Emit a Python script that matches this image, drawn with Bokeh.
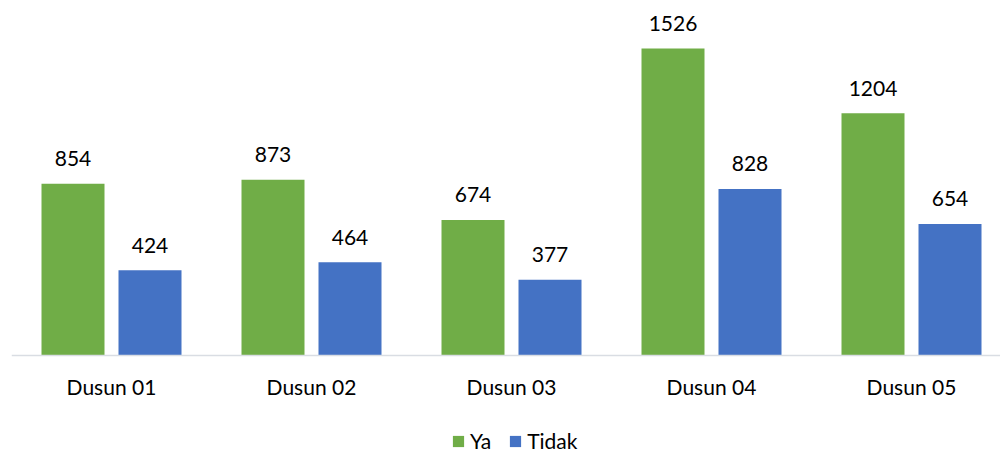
from bokeh.plotting import figure
from bokeh.models import Range1d, FixedTicker, Legend, LegendItem, ColumnDataSource, LinearAxis
from bokeh.core.properties import value
from bokeh.embed import file_html
from bokeh.resources import INLINE

categories = ["Dusun 01", "Dusun 02", "Dusun 03", "Dusun 04", "Dusun 05"]
ya = [854, 873, 674, 1526, 1204]
tidak = [424, 464, 377, 828, 654]
series_names = ["Ya", "Tidak"]

FONT = "Lato"
FS = "21px"
GREEN = "#70ad47"
BLUE = "#4472c4"

centers = [i + 0.5 for i in range(len(categories))]
off = 0.1925
bw = 0.315

src_ya = ColumnDataSource(dict(x=[c - off for c in centers], top=ya, lab=[str(v) for v in ya]))
src_ti = ColumnDataSource(dict(x=[c + off for c in centers], top=tidak, lab=[str(v) for v in tidak]))

p = figure(frame_width=989, frame_height=453,
           x_range=Range1d(0, 4.945), y_range=Range1d(-487.1, 1764.6),
           output_backend="svg", toolbar_location=None,
           x_axis_location=None, y_axis_location=None,
           min_border_left=11, min_border_right=0, min_border_top=0, min_border_bottom=0)
p.outline_line_color = None
p.grid.visible = False

r1 = p.vbar(x="x", top="top", width=bw, bottom=0, source=src_ya, fill_color=GREEN, line_color=None)
r2 = p.vbar(x="x", top="top", width=bw, bottom=0, source=src_ti, fill_color=BLUE, line_color=None)

for s in (src_ya, src_ti):
    p.text(x="x", y="top", text="lab", source=s, text_align="center", text_baseline="alphabetic",
           y_offset=-25, text_font=value(FONT), text_font_size=FS, text_color="black")

ax = LinearAxis(fixed_location=0)
ax.ticker = FixedTicker(ticks=centers)
ax.major_label_overrides = {c: n for c, n in zip(centers, categories)}
ax.axis_line_color = "#d9dde3"
ax.axis_line_width = 1.5
ax.major_tick_line_color = None
ax.minor_tick_line_color = None
ax.major_label_standoff = 12
ax.major_label_text_font = FONT
ax.major_label_text_font_size = FS
ax.major_label_text_color = "black"
p.add_layout(ax, "below")

legend = Legend(items=[LegendItem(label=series_names[0], renderers=[r1]),
                       LegendItem(label=series_names[1], renderers=[r2])],
                orientation="horizontal", location=(440, 0),
                glyph_width=14, glyph_height=14, label_standoff=5, spacing=17,
                padding=0, margin=0, border_line_color=None, background_fill_alpha=0,
                label_text_font=FONT, label_text_font_size=FS, label_text_color="black")
p.add_layout(legend, "center")

open("out.html", "w").write(file_html(p, INLINE))
